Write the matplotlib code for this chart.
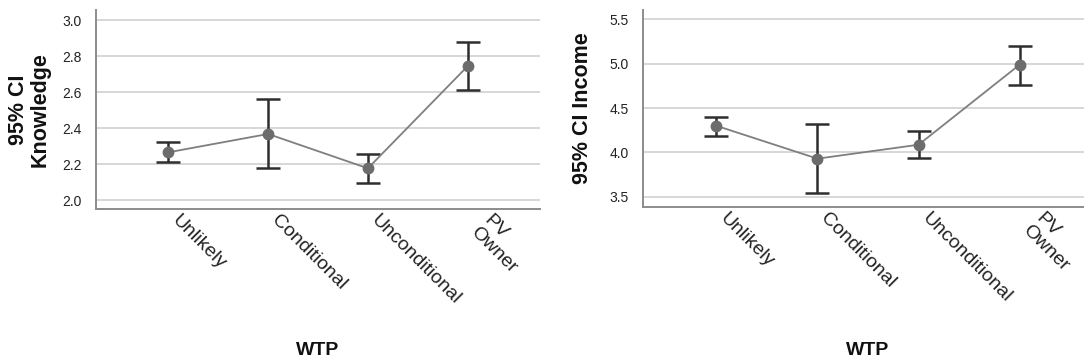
import matplotlib
matplotlib.use("Agg")
import matplotlib.pyplot as plt
import numpy as np

plt.rcParams['font.family'] = ['Liberation Sans', 'DejaVu Sans']

categories = ["Unlikely", "Conditional", "Unconditional", "PV\nOwner"]
knowledge_mean = [2.265, 2.367, 2.176, 2.744]
knowledge_lower = [2.209, 2.178, 2.096, 2.611]
knowledge_upper = [2.320, 2.559, 2.257, 2.876]
income_mean = [4.30, 3.929, 4.086, 4.989]
income_lower = [4.19, 3.545, 3.94, 4.763]
income_upper = [4.40, 4.32, 4.237, 5.203]
knowledge_ticks = [2.0, 2.2, 2.4, 2.6, 2.8, 3.0]
income_ticks = [3.5, 4.0, 4.5, 5.0, 5.5]

W, H = 1084, 362
fig = plt.figure(figsize=(W / 100, H / 100), dpi=100)

def px_axes(x0, y0, x1, y1):
    return fig.add_axes([x0 / W, 1 - y1 / H, (x1 - x0) / W, (y1 - y0) / H])

ax1 = px_axes(96, 10, 540, 209)
ax2 = px_axes(643, 10, 1093, 207)

def draw(ax, mean, lo, hi, ticks, ylim, ylabel, ylab_x, xlab_y):
    x = np.arange(len(categories))
    mean = np.array(mean); lo = np.array(lo); hi = np.array(hi)
    ax.errorbar(x, mean, yerr=[mean - lo, hi - mean], fmt='none',
                ecolor='#2e2e2e', elinewidth=1.8, capsize=8.5, capthick=1.8, zorder=3)
    ax.plot(x, mean, color='#7f7f7f', lw=1.3, marker='o', markersize=7.5,
            markerfacecolor='#6c6c6c', markeredgecolor='#6c6c6c', zorder=4)
    ax.set_xlim(-0.725, 3.725)
    ax.set_ylim(*ylim)
    ax.set_yticks(ticks)
    ax.set_yticklabels([f"{t:.1f}" for t in ticks], fontsize=10, color='#222222')
    ax.set_xticks(x)
    ax.set_xticklabels(categories, rotation=-45, ha='left', va='top',
                       fontsize=14, color='#222222', multialignment='left',
                       linespacing=1.05)
    ax.tick_params(axis='y', length=0, pad=10)
    ax.tick_params(axis='x', length=0, pad=2)
    ax.grid(axis='y', color='#d4d4d4', lw=1.3)
    ax.set_axisbelow(True)
    for s in ['top', 'right']:
        ax.spines[s].set_visible(False)
    for s in ['left', 'bottom']:
        ax.spines[s].set_color('#8c8c8c')
        ax.spines[s].set_linewidth(1.4)
    ax.set_ylabel(ylabel, fontsize=15.5, fontweight='bold', color='#111111',
                  linespacing=1.0)
    ax.yaxis.label.set_verticalalignment('center')
    ax.yaxis.set_label_coords(ylab_x, 0.5)
    ax.set_xlabel("WTP", fontsize=14, fontweight='bold', color='#111111')
    ax.xaxis.label.set_verticalalignment('center')
    ax.xaxis.set_label_coords(0.5, xlab_y)

draw(ax1, knowledge_mean, knowledge_lower, knowledge_upper, knowledge_ticks,
     (1.95, 3.056), "95% CI\nKnowledge", -0.15, -0.709)
draw(ax2, income_mean, income_lower, income_upper, income_ticks,
     (3.384, 5.605), "95% CI Income", -0.1335, -0.726)

fig.savefig("out.png", dpi=100)
